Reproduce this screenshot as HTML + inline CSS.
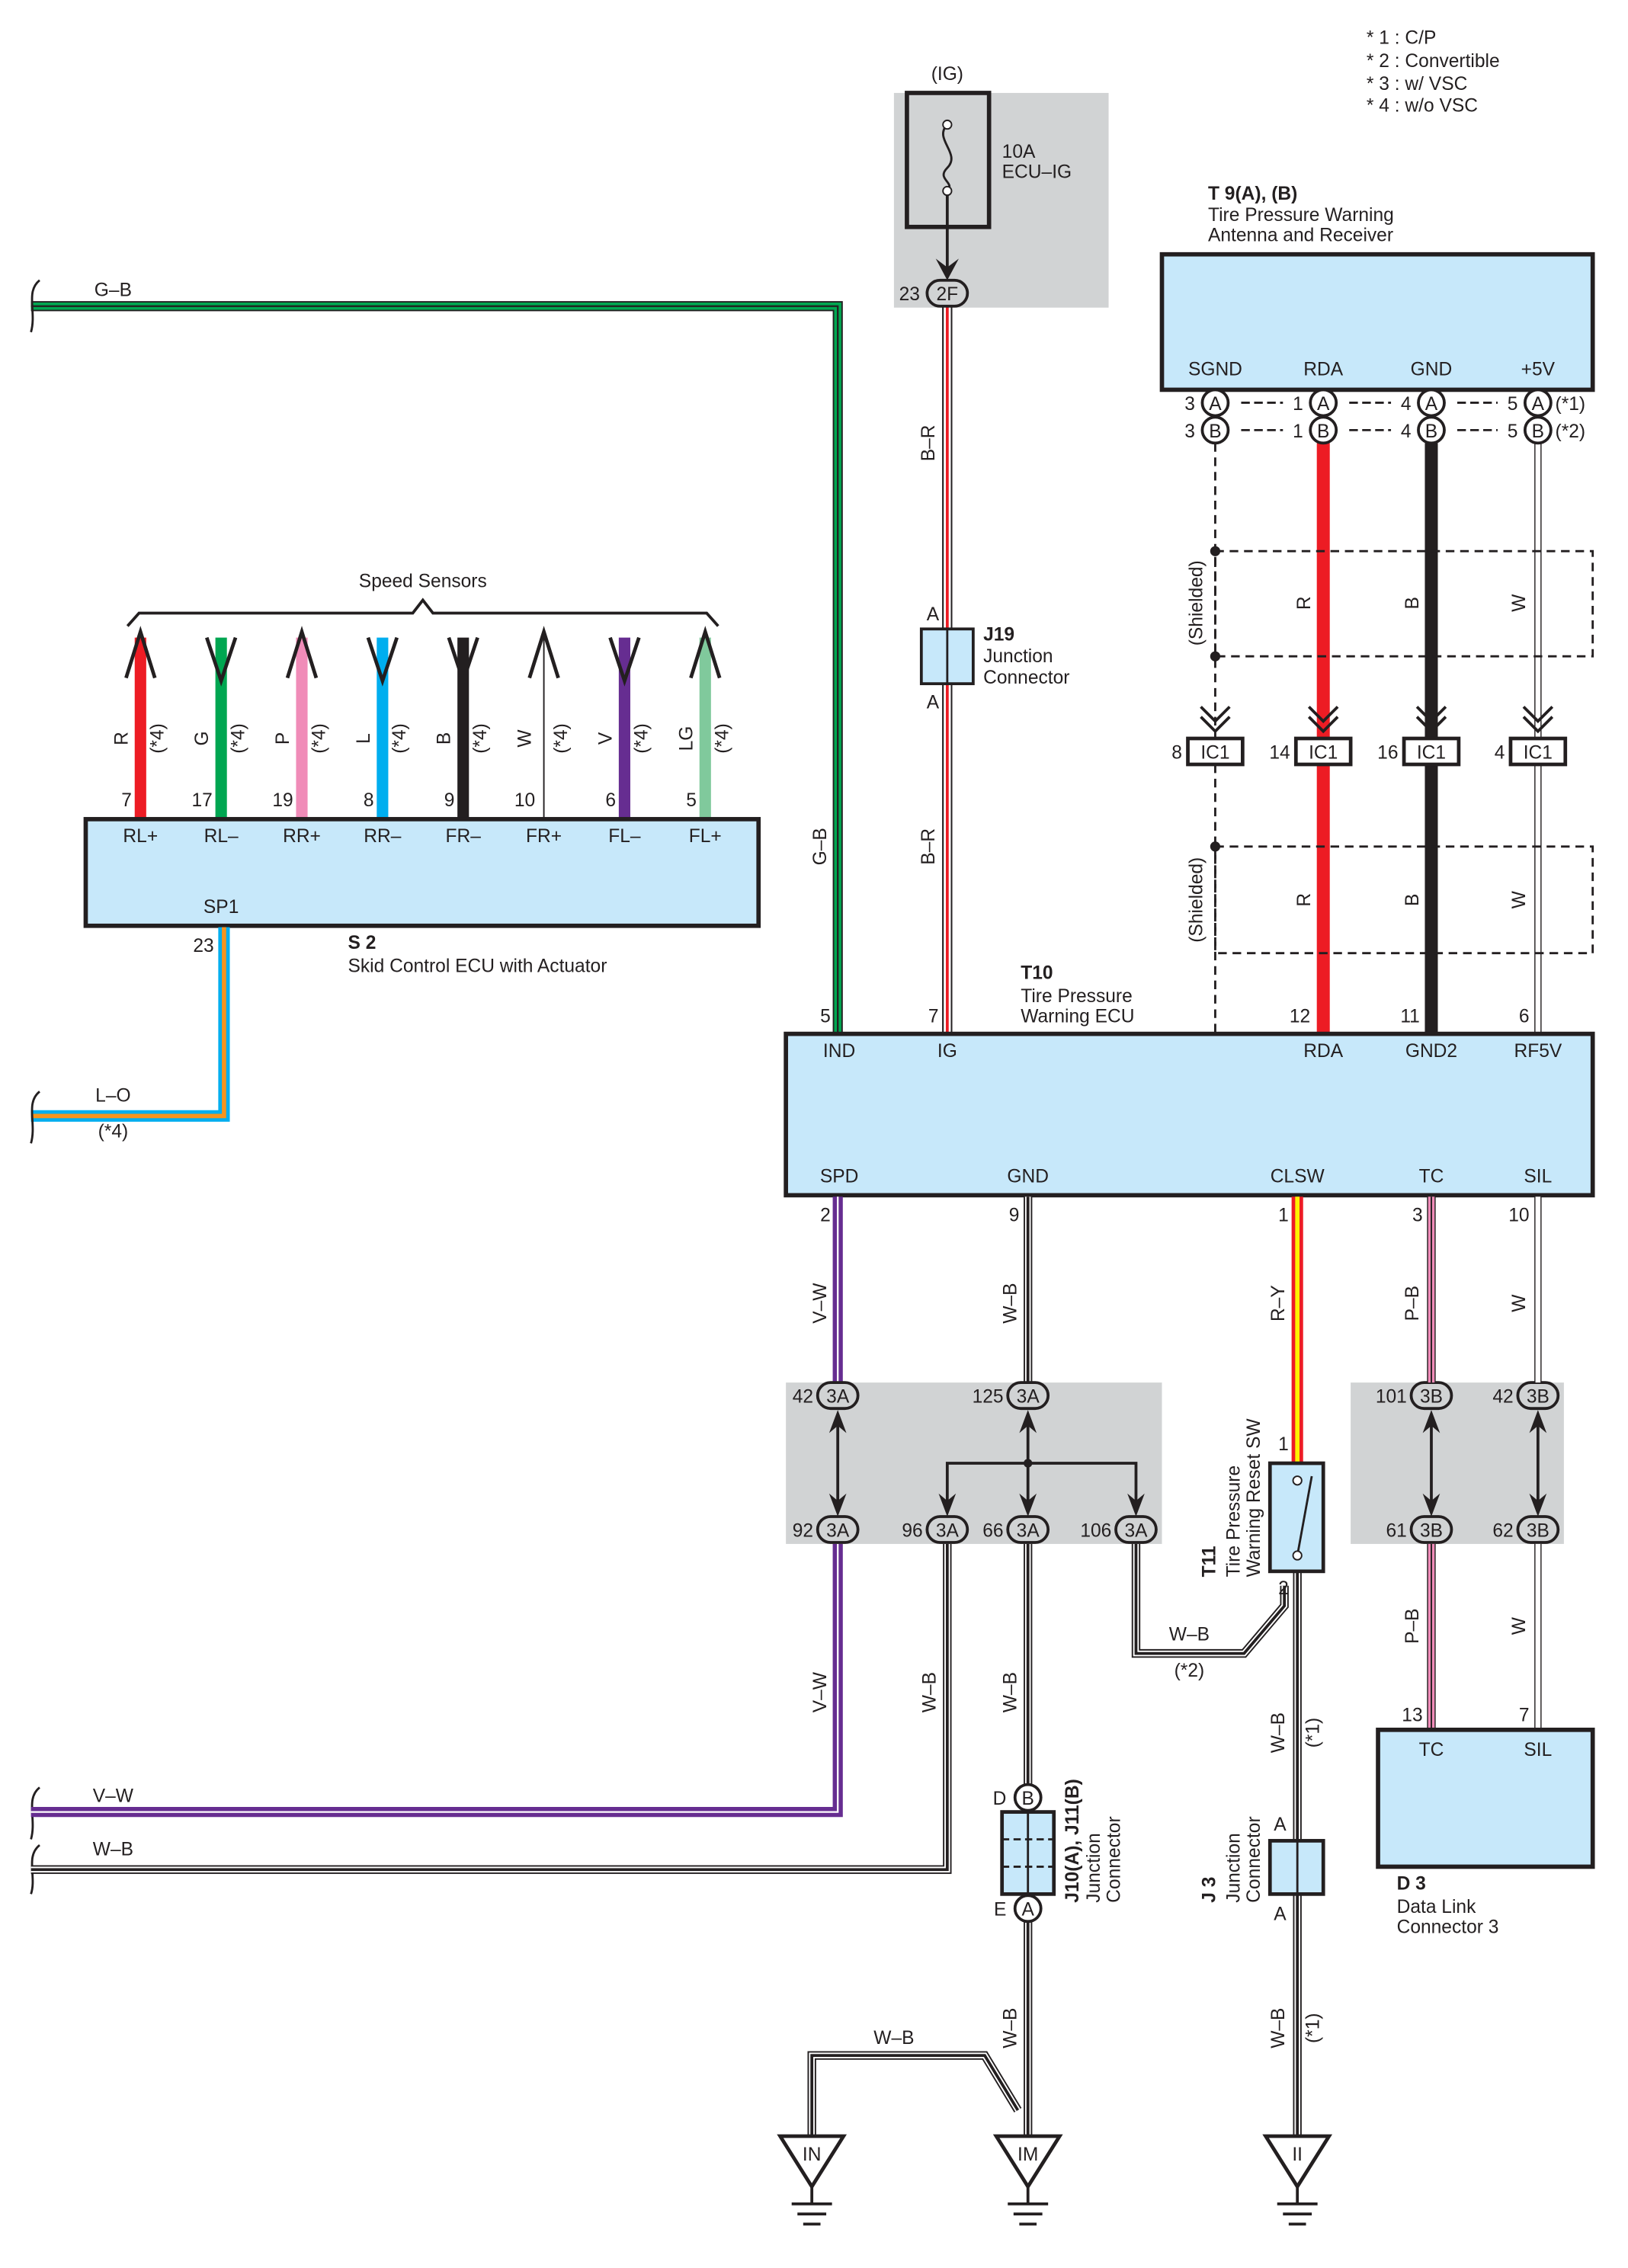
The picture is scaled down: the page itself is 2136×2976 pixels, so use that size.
<!DOCTYPE html>
<html><head><meta charset="utf-8"><style>
html,body{margin:0;padding:0;background:#fff}
svg{display:block}
text{font-family:"Liberation Sans",sans-serif;font-size:13px;fill:#231f20}
.b{font-weight:bold}
.m{text-anchor:middle}
.e{text-anchor:end}
</style></head><body>
<svg width="2136" height="2976" viewBox="0 0 1130 1574" preserveAspectRatio="none" xmlns="http://www.w3.org/2000/svg">
<rect width="1130" height="1574" fill="#fff"/>
<g transform="translate(3.5,2.5)">
<!-- legend -->
<text x="945" y="28">* 1 : C/P</text>
<text x="945" y="44">* 2 : Convertible</text>
<text x="945" y="60">* 3 : w/ VSC</text>
<text x="945" y="75">* 4 : w/o VSC</text>

<!-- grey boxes -->
<rect x="617" y="62" width="149" height="149" fill="#d1d3d4"/>
<rect x="542" y="957" width="261" height="112" fill="#d1d3d4"/>
<rect x="934" y="957" width="148" height="112" fill="#d1d3d4"/>

<!-- fuse -->
<text x="654" y="53" class="m">(IG)</text>
<rect x="626" y="62" width="57" height="93" fill="none" stroke="#231f20" stroke-width="3"/>
<path d="M654 84 C644 94 664 104 654 114 C646 122 660 124 654 130" fill="none" stroke="#231f20" stroke-width="1.5"/>
<circle cx="654" cy="84" r="3" fill="#fff" stroke="#231f20"/>
<circle cx="654" cy="130" r="3" fill="#fff" stroke="#231f20"/>
<line x1="654" y1="133" x2="654" y2="185" stroke="#231f20" stroke-width="2"/>
<path d="M646 177 L654 192 L662 177 L654 183 Z" fill="#231f20"/>
<text x="692" y="107">10A</text>
<text x="692" y="121">ECU–IG</text>

<!-- G-B wire -->
<path d="M18 210 H578 V715" fill="none" stroke="#231f20" stroke-width="7"/>
<path d="M18 210 H578 V715" fill="none" stroke="#00a651" stroke-width="5"/>
<path d="M18 210 H578 V715" fill="none" stroke="#231f20" stroke-width="1.2"/>
<text x="75" y="203" class="m">G–B</text>
<text transform="translate(570,585) rotate(-90)" class="m">G–B</text>
<text x="573" y="707" class="e">5</text>

<!-- B-R wire -->
<path d="M654 210 V715" fill="none" stroke="#231f20" stroke-width="7"/>
<path d="M654 210 V715" fill="none" stroke="#fff" stroke-width="5"/>
<path d="M654 210 V715" fill="none" stroke="#ed1c24" stroke-width="2"/>
<path d="M651 210 V715 M657 210 V715" stroke="#231f20" stroke-width="1"/>
<rect x="640" y="192" width="28" height="18" rx="9" fill="#d1d3d4" stroke="#231f20" stroke-width="2"/>
<text x="654" y="206" class="m">2F</text>
<text x="635" y="206" class="e">23</text>
<text transform="translate(645,305) rotate(-90)" class="m">B–R</text>
<text transform="translate(645,585) rotate(-90)" class="m">B–R</text>
<rect x="636" y="434" width="36" height="38" fill="#c7e8fa" stroke="#231f20" stroke-width="2"/>
<line x1="654" y1="434" x2="654" y2="472" stroke="#231f20" stroke-width="1.5"/>
<text x="644" y="428" class="m">A</text>
<text x="644" y="489" class="m">A</text>
<text x="679" y="442" class="b">J19</text>
<text x="679" y="457">Junction</text>
<text x="679" y="472">Connector</text>
<text x="648" y="707" class="e">7</text>

<!-- speed sensors -->
<text x="290" y="405" class="m">Speed Sensors</text>
<path d="M85 432 L93 423 H283 L290 414 L297 423 H487 L495 432" fill="none" stroke="#231f20" stroke-width="2"/>
<g stroke-width="8" fill="none">
<line x1="94" y1="440" x2="94" y2="566" stroke="#ed1c24"/>
<line x1="150" y1="440" x2="150" y2="566" stroke="#00a651"/>
<line x1="206" y1="440" x2="206" y2="566" stroke="#f08cb8"/>
<line x1="262" y1="440" x2="262" y2="566" stroke="#00aeef"/>
<line x1="318" y1="440" x2="318" y2="566" stroke="#231f20"/>
<line x1="430" y1="440" x2="430" y2="566" stroke="#662d91"/>
<line x1="486" y1="440" x2="486" y2="566" stroke="#80c99c"/>
</g>
<line x1="374" y1="438" x2="374" y2="566" stroke="#231f20" stroke-width="1"/>
<g stroke="#231f20" stroke-width="2.5" fill="none">
<path d="M84 468 L94 436 L104 468"/>
<path d="M196 468 L206 436 L216 468"/>
<path d="M364 468 L374 436 L384 468"/>
<path d="M476 468 L486 436 L496 468"/>
<path d="M140 440 L150 470 L160 440"/>
<path d="M252 440 L262 470 L272 440"/>
<path d="M308 440 L318 470 L328 440"/>
<path d="M420 440 L430 470 L440 440"/>
</g>
<g>
<text transform="translate(85,510) rotate(-90)" class="m">R</text>
<text transform="translate(141,510) rotate(-90)" class="m">G</text>
<text transform="translate(197,510) rotate(-90)" class="m">P</text>
<text transform="translate(253,510) rotate(-90)" class="m">L</text>
<text transform="translate(309,510) rotate(-90)" class="m">B</text>
<text transform="translate(365,510) rotate(-90)" class="m">W</text>
<text transform="translate(421,510) rotate(-90)" class="m">V</text>
<text transform="translate(477,510) rotate(-90)" class="m">LG</text>
<text transform="translate(110,510) rotate(-90)" class="m">(*4)</text>
<text transform="translate(166,510) rotate(-90)" class="m">(*4)</text>
<text transform="translate(222,510) rotate(-90)" class="m">(*4)</text>
<text transform="translate(278,510) rotate(-90)" class="m">(*4)</text>
<text transform="translate(334,510) rotate(-90)" class="m">(*4)</text>
<text transform="translate(390,510) rotate(-90)" class="m">(*4)</text>
<text transform="translate(446,510) rotate(-90)" class="m">(*4)</text>
<text transform="translate(502,510) rotate(-90)" class="m">(*4)</text>
</g>
<text x="88" y="557" class="e">7</text>
<text x="144" y="557" class="e">17</text>
<text x="200" y="557" class="e">19</text>
<text x="256" y="557" class="e">8</text>
<text x="312" y="557" class="e">9</text>
<text x="368" y="557" class="e">10</text>
<text x="424" y="557" class="e">6</text>
<text x="480" y="557" class="e">5</text>

<!-- S2 box -->
<rect x="56" y="566" width="467" height="74" fill="#c7e8fa" stroke="#231f20" stroke-width="3"/>
<text x="94" y="582" class="m">RL+</text>
<text x="150" y="582" class="m">RL–</text>
<text x="206" y="582" class="m">RR+</text>
<text x="262" y="582" class="m">RR–</text>
<text x="318" y="582" class="m">FR–</text>
<text x="374" y="582" class="m">FR+</text>
<text x="430" y="582" class="m">FL–</text>
<text x="486" y="582" class="m">FL+</text>
<text x="150" y="631" class="m">SP1</text>
<text x="145" y="658" class="e">23</text>
<text x="238" y="656" class="b">S 2</text>
<text x="238" y="672">Skid Control ECU with Actuator</text>

<!-- L-O wire -->
<path d="M152 641 V772 H18" fill="none" stroke="#00aeef" stroke-width="8"/>
<path d="M152 641 V772 H18" fill="none" stroke="#f7941d" stroke-width="3"/>
<text x="75" y="762" class="m">L–O</text>
<text x="75" y="787" class="m">(*4)</text>

<!-- wire breaks -->
<g fill="none" stroke="#231f20" stroke-width="1.5">
<path d="M24 192 C14 200 22 214 18 228"/>
<path d="M24 755 C14 763 22 777 18 791"/>
<path d="M24 1238 C14 1246 22 1260 18 1274"/>
<path d="M24 1278 C14 1286 22 1300 18 1312"/>
</g>

<!-- T9 box -->
<text x="835" y="136" class="b">T 9(A), (B)</text>
<text x="835" y="151">Tire Pressure Warning</text>
<text x="835" y="165">Antenna and Receiver</text>
<rect x="803" y="174" width="299" height="94" fill="#c7e8fa" stroke="#231f20" stroke-width="3"/>
<text x="840" y="258" class="m">SGND</text>
<text x="915" y="258" class="m">RDA</text>
<text x="990" y="258" class="m">GND</text>
<text x="1064" y="258" class="m">+5V</text>

<!-- T9 wires -->
<line x1="840" y1="305" x2="840" y2="510" stroke="#231f20" stroke-width="1.5" stroke-dasharray="6,4"/>
<line x1="840" y1="528" x2="840" y2="715" stroke="#231f20" stroke-width="1.5" stroke-dasharray="6,4"/>
<line x1="915" y1="305" x2="915" y2="715" stroke="#ed1c24" stroke-width="9"/>
<line x1="990" y1="305" x2="990" y2="715" stroke="#231f20" stroke-width="9"/>
<line x1="1064" y1="305" x2="1064" y2="715" stroke="#231f20" stroke-width="5"/>
<line x1="1064" y1="305" x2="1064" y2="715" stroke="#fff" stroke-width="3.5"/>
<!-- IC1 -->
<g fill="#fff" stroke="#231f20" stroke-width="2.5">
<rect x="821" y="510" width="38" height="18"/>
<rect x="896" y="510" width="38" height="18"/>
<rect x="971" y="510" width="38" height="18"/>
<rect x="1045" y="510" width="38" height="18"/>
</g>
<text x="840" y="524" class="m">IC1</text>
<text x="915" y="524" class="m">IC1</text>
<text x="990" y="524" class="m">IC1</text>
<text x="1064" y="524" class="m">IC1</text>
<text x="817" y="524" class="e">8</text>
<text x="892" y="524" class="e">14</text>
<text x="967" y="524" class="e">16</text>
<text x="1041" y="524" class="e">4</text>
<g fill="none" stroke="#231f20" stroke-width="2">
<path d="M830 488 L840 498 L850 488 M830 495 L840 505 L850 495"/>
<path d="M905 488 L915 498 L925 488 M905 495 L915 505 L925 495"/>
<path d="M980 488 L990 498 L1000 488 M980 495 L990 505 L1000 495"/>
<path d="M1054 488 L1064 498 L1074 488 M1054 495 L1064 505 L1074 495"/>
</g>
<!-- shielded boxes -->
<rect x="840" y="380" width="262" height="73" fill="none" stroke="#231f20" stroke-width="1.5" stroke-dasharray="6,4"/>
<rect x="840" y="585" width="262" height="74" fill="none" stroke="#231f20" stroke-width="1.5" stroke-dasharray="6,4"/>
<circle cx="840" cy="380" r="3.5" fill="#231f20"/>
<circle cx="840" cy="453" r="3.5" fill="#231f20"/>
<circle cx="840" cy="585" r="3.5" fill="#231f20"/>
<text transform="translate(831,416) rotate(-90)" class="m">(Shielded)</text>
<text transform="translate(831,622) rotate(-90)" class="m">(Shielded)</text>
<text transform="translate(906,416) rotate(-90)" class="m">R</text>
<text transform="translate(981,416) rotate(-90)" class="m">B</text>
<text transform="translate(1055,416) rotate(-90)" class="m">W</text>
<text transform="translate(906,622) rotate(-90)" class="m">R</text>
<text transform="translate(981,622) rotate(-90)" class="m">B</text>
<text transform="translate(1055,622) rotate(-90)" class="m">W</text>
<!-- T9 connectors -->
<g stroke="#231f20" stroke-width="1.5" stroke-dasharray="6,3">
<line x1="858" y1="277" x2="887" y2="277"/><line x1="933" y1="277" x2="962" y2="277"/><line x1="1008" y1="277" x2="1036" y2="277"/>
<line x1="858" y1="296" x2="887" y2="296"/><line x1="933" y1="296" x2="962" y2="296"/><line x1="1008" y1="296" x2="1036" y2="296"/>
</g>
<g fill="#fff" stroke="#231f20" stroke-width="2">
<circle cx="840" cy="277" r="9"/><circle cx="915" cy="277" r="9"/><circle cx="990" cy="277" r="9"/><circle cx="1064" cy="277" r="9"/>
<circle cx="840" cy="296" r="9"/><circle cx="915" cy="296" r="9"/><circle cx="990" cy="296" r="9"/><circle cx="1064" cy="296" r="9"/>
</g>
<text x="840" y="282" class="m">A</text><text x="915" y="282" class="m">A</text><text x="990" y="282" class="m">A</text><text x="1064" y="282" class="m">A</text>
<text x="840" y="301" class="m">B</text><text x="915" y="301" class="m">B</text><text x="990" y="301" class="m">B</text><text x="1064" y="301" class="m">B</text>
<text x="826" y="282" class="e">3</text><text x="901" y="282" class="e">1</text><text x="976" y="282" class="e">4</text><text x="1050" y="282" class="e">5</text>
<text x="826" y="301" class="e">3</text><text x="901" y="301" class="e">1</text><text x="976" y="301" class="e">4</text><text x="1050" y="301" class="e">5</text>
<text x="1076" y="282">(*1)</text>
<text x="1076" y="301">(*2)</text>
<text x="906" y="707" class="e">12</text>
<text x="982" y="707" class="e">11</text>
<text x="1058" y="707" class="e">6</text>

<!-- T10 -->
<text x="705" y="677" class="b">T10</text>
<text x="705" y="693">Tire Pressure</text>
<text x="705" y="707">Warning ECU</text>
<rect x="542" y="715" width="560" height="112" fill="#c7e8fa" stroke="#231f20" stroke-width="3"/>
<text x="579" y="731" class="m">IND</text>
<text x="654" y="731" class="m">IG</text>
<text x="915" y="731" class="m">RDA</text>
<text x="990" y="731" class="m">GND2</text>
<text x="1064" y="731" class="m">RF5V</text>
<text x="579" y="818" class="m">SPD</text>
<text x="710" y="818" class="m">GND</text>
<text x="897" y="818" class="m">CLSW</text>
<text x="990" y="818" class="m">TC</text>
<text x="1064" y="818" class="m">SIL</text>

<!-- V-W purple -->
<path d="M578 828 V957 M578 1069 V1255 H18" fill="none" stroke="#662d91" stroke-width="7"/>
<path d="M578 828 V957 M578 1069 V1255 H18" fill="none" stroke="#fff" stroke-width="1.2"/>
<text x="573" y="845" class="e">2</text>
<text transform="translate(570,902) rotate(-90)" class="m">V–W</text>
<text transform="translate(570,1172) rotate(-90)" class="m">V–W</text>
<text x="75" y="1248" class="m">V–W</text>

<!-- W-B wires -->
<g fill="none" stroke="#231f20" stroke-width="6">
<path d="M710 828 V957"/><path d="M710 1069 V1480"/><path d="M654 1069 V1295 H18"/>
<path d="M785 1069 V1145 H860 L888 1112 V1098"/><path d="M897 1088 V1480"/>
<path d="M703 1462 L680 1424 H560 V1480"/>
</g>
<g fill="none" stroke="#fff" stroke-width="4">
<path d="M710 828 V957"/><path d="M710 1069 V1480"/><path d="M654 1069 V1295 H18"/>
<path d="M785 1069 V1145 H860 L888 1112 V1098"/><path d="M897 1088 V1480"/>
<path d="M703 1462 L680 1424 H560 V1480"/>
</g>
<g fill="none" stroke="#231f20" stroke-width="2">
<path d="M710 828 V957"/><path d="M710 1069 V1480"/><path d="M654 1069 V1295 H18"/>
<path d="M785 1069 V1145 H860 L888 1112 V1098"/><path d="M897 1088 V1480"/>
<path d="M703 1462 L680 1424 H560 V1480"/>
</g>
<text x="704" y="845" class="e">9</text>
<text transform="translate(702,902) rotate(-90)" class="m">W–B</text>
<text transform="translate(646,1172) rotate(-90)" class="m">W–B</text>
<text transform="translate(702,1172) rotate(-90)" class="m">W–B</text>
<text transform="translate(702,1405) rotate(-90)" class="m">W–B</text>
<text transform="translate(888,1200) rotate(-90)" class="m">W–B</text>
<text transform="translate(912,1200) rotate(-90)" class="m">(*1)</text>
<text transform="translate(888,1405) rotate(-90)" class="m">W–B</text>
<text transform="translate(912,1405) rotate(-90)" class="m">(*1)</text>
<text x="75" y="1285" class="m">W–B</text>
<text x="822" y="1136" class="m">W–B</text>
<text x="822" y="1161" class="m">(*2)</text>
<text x="617" y="1416" class="m">W–B</text>

<!-- junction arrows inside grey boxes -->
<g stroke="#231f20" stroke-width="2" fill="none">
<line x1="578" y1="980" x2="578" y2="1045"/>
<line x1="710" y1="980" x2="710" y2="1045"/>
<path d="M654 1045 V1013 H785 V1045"/>
<line x1="990" y1="980" x2="990" y2="1045"/>
<line x1="1064" y1="980" x2="1064" y2="1045"/>
</g>
<circle cx="710" cy="1013" r="3" fill="#231f20"/>
<g fill="#231f20">
<path d="M572 992 L578 976 L584 992 L578 987Z"/><path d="M572 1034 L578 1050 L584 1034 L578 1039Z"/>
<path d="M704 992 L710 976 L716 992 L710 987Z"/><path d="M704 1034 L710 1050 L716 1034 L710 1039Z"/>
<path d="M648 1034 L654 1050 L660 1034 L654 1039Z"/><path d="M779 1034 L785 1050 L791 1034 L785 1039Z"/>
<path d="M984 992 L990 976 L996 992 L990 987Z"/><path d="M984 1034 L990 1050 L996 1034 L990 1039Z"/>
<path d="M1058 992 L1064 976 L1070 992 L1064 987Z"/><path d="M1058 1034 L1064 1050 L1070 1034 L1064 1039Z"/>
</g>
<g fill="#d1d3d4" stroke="#231f20" stroke-width="2">
<rect x="564" y="957" width="28" height="18" rx="9"/><rect x="696" y="957" width="28" height="18" rx="9"/>
<rect x="564" y="1050" width="28" height="18" rx="9"/><rect x="640" y="1050" width="28" height="18" rx="9"/>
<rect x="696" y="1050" width="28" height="18" rx="9"/><rect x="771" y="1050" width="28" height="18" rx="9"/>
<rect x="976" y="957" width="28" height="18" rx="9"/><rect x="1050" y="957" width="28" height="18" rx="9"/>
<rect x="976" y="1050" width="28" height="18" rx="9"/><rect x="1050" y="1050" width="28" height="18" rx="9"/>
</g>
<text x="578" y="971" class="m">3A</text><text x="710" y="971" class="m">3A</text>
<text x="578" y="1064" class="m">3A</text><text x="654" y="1064" class="m">3A</text><text x="710" y="1064" class="m">3A</text><text x="785" y="1064" class="m">3A</text>
<text x="990" y="971" class="m">3B</text><text x="1064" y="971" class="m">3B</text>
<text x="990" y="1064" class="m">3B</text><text x="1064" y="1064" class="m">3B</text>
<text x="561" y="971" class="e">42</text><text x="693" y="971" class="e">125</text>
<text x="561" y="1064" class="e">92</text><text x="637" y="1064" class="e">96</text><text x="693" y="1064" class="e">66</text><text x="768" y="1064" class="e">106</text>
<text x="973" y="971" class="e">101</text><text x="1047" y="971" class="e">42</text>
<text x="973" y="1064" class="e">61</text><text x="1047" y="1064" class="e">62</text>

<!-- R-Y -->
<line x1="897" y1="828" x2="897" y2="1013" stroke="#ed1c24" stroke-width="8"/>
<line x1="897" y1="828" x2="897" y2="1013" stroke="#fff200" stroke-width="3"/>
<text x="891" y="845" class="e">1</text>
<text transform="translate(888,902) rotate(-90)" class="m">R–Y</text>
<text x="891" y="1004" class="e">1</text>
<text x="891" y="1104" class="e">2</text>
<!-- T11 switch -->
<rect x="878" y="1013" width="37" height="75" fill="#c7e8fa" stroke="#231f20" stroke-width="2.5"/>
<line x1="897" y1="1077" x2="907" y2="1022" stroke="#231f20" stroke-width="1.5"/>
<circle cx="897" cy="1025" r="3" fill="#fff" stroke="#231f20"/>
<circle cx="897" cy="1077" r="3" fill="#fff" stroke="#231f20"/>
<text transform="translate(840,1092) rotate(-90)" class="b">T11</text>
<text transform="translate(857,1092) rotate(-90)">Tire Pressure</text>
<text transform="translate(871,1092) rotate(-90)">Warning Reset SW</text>

<!-- J3 -->
<rect x="878" y="1275" width="37" height="37" fill="#c7e8fa" stroke="#231f20" stroke-width="2.5"/>
<line x1="897" y1="1275" x2="897" y2="1312" stroke="#231f20" stroke-width="1.5"/>
<text x="885" y="1268" class="m">A</text>
<text x="885" y="1330" class="m">A</text>
<text transform="translate(840,1318) rotate(-90)" class="b">J 3</text>
<text transform="translate(857,1318) rotate(-90)">Junction</text>
<text transform="translate(871,1318) rotate(-90)">Connector</text>

<!-- J10/J11 -->
<rect x="692" y="1255" width="36" height="57" fill="#c7e8fa" stroke="#231f20" stroke-width="2.5"/>
<line x1="710" y1="1255" x2="710" y2="1312" stroke="#231f20" stroke-width="1.5"/>
<line x1="692" y1="1274" x2="728" y2="1274" stroke="#231f20" stroke-width="1.5" stroke-dasharray="5,3"/>
<line x1="692" y1="1293" x2="728" y2="1293" stroke="#231f20" stroke-width="1.5" stroke-dasharray="5,3"/>
<circle cx="710" cy="1245" r="9" fill="#fff" stroke="#231f20" stroke-width="2"/>
<circle cx="710" cy="1322" r="9" fill="#fff" stroke="#231f20" stroke-width="2"/>
<text x="710" y="1250" class="m">B</text>
<text x="710" y="1327" class="m">A</text>
<text x="695" y="1250" class="e">D</text>
<text x="695" y="1327" class="e">E</text>
<text transform="translate(745,1318) rotate(-90)" class="b">J10(A), J11(B)</text>
<text transform="translate(760,1318) rotate(-90)">Junction</text>
<text transform="translate(774,1318) rotate(-90)">Connector</text>

<!-- TC / SIL -->
<line x1="990" y1="828" x2="990" y2="957" stroke="#231f20" stroke-width="6"/>
<line x1="990" y1="828" x2="990" y2="957" stroke="#f08cb8" stroke-width="4.5"/>
<line x1="990" y1="828" x2="990" y2="957" stroke="#231f20" stroke-width="1"/>
<line x1="990" y1="1069" x2="990" y2="1198" stroke="#231f20" stroke-width="6"/>
<line x1="990" y1="1069" x2="990" y2="1198" stroke="#f08cb8" stroke-width="4.5"/>
<line x1="990" y1="1069" x2="990" y2="1198" stroke="#231f20" stroke-width="1"/>
<line x1="1064" y1="828" x2="1064" y2="957" stroke="#231f20" stroke-width="5"/>
<line x1="1064" y1="828" x2="1064" y2="957" stroke="#fff" stroke-width="3.5"/>
<line x1="1064" y1="1069" x2="1064" y2="1198" stroke="#231f20" stroke-width="5"/>
<line x1="1064" y1="1069" x2="1064" y2="1198" stroke="#fff" stroke-width="3.5"/>
<text x="984" y="845" class="e">3</text>
<text x="1058" y="845" class="e">10</text>
<text transform="translate(981,902) rotate(-90)" class="m">P–B</text>
<text transform="translate(1055,902) rotate(-90)" class="m">W</text>
<text transform="translate(981,1126) rotate(-90)" class="m">P–B</text>
<text transform="translate(1055,1126) rotate(-90)" class="m">W</text>
<text x="984" y="1192" class="e">13</text>
<text x="1058" y="1192" class="e">7</text>
<rect x="953" y="1198" width="149" height="95" fill="#c7e8fa" stroke="#231f20" stroke-width="3"/>
<text x="990" y="1216" class="m">TC</text>
<text x="1064" y="1216" class="m">SIL</text>
<text x="966" y="1309" class="b">D 3</text>
<text x="966" y="1325">Data Link</text>
<text x="966" y="1339">Connector 3</text>

<!-- grounds -->
<g fill="#fff" stroke="#231f20" stroke-width="2.5">
<path d="M538 1480 H582 L560 1515 Z"/>
<path d="M688 1480 H732 L710 1515 Z"/>
<path d="M875 1480 H919 L897 1515 Z"/>
</g>
<g stroke="#231f20" stroke-width="2">
<path d="M560 1515 V1527 M546 1527 H574 M550 1534 H570 M554 1541 H566"/>
<path d="M710 1515 V1527 M696 1527 H724 M700 1534 H720 M704 1541 H716"/>
<path d="M897 1515 V1527 M883 1527 H911 M887 1534 H907 M891 1541 H903"/>
</g>
<text x="560" y="1497" class="m">IN</text>
<text x="710" y="1497" class="m">IM</text>
<text x="897" y="1497" class="m">II</text>
</g>
</svg>
</body></html>
